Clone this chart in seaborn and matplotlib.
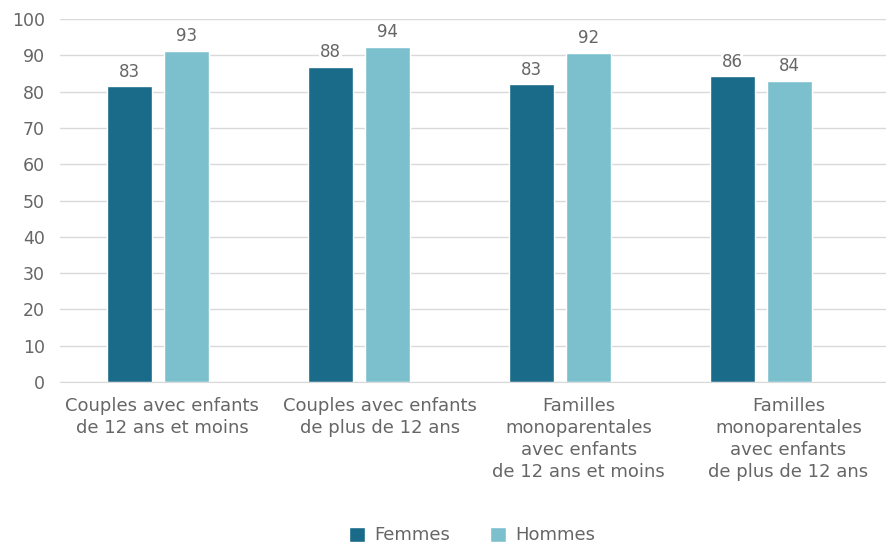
import pandas as pd
import matplotlib
matplotlib.use('Agg')
import matplotlib.pyplot as plt
import matplotlib.transforms as mtransforms
import seaborn as sns

categories = [
    "Couples avec enfants\nde 12 ans et moins",
    "Couples avec enfants\nde plus de 12 ans",
    "Familles\nmonoparentales\navec enfants\nde 12 ans et moins",
    "Familles\nmonoparentales\navec enfants\nde plus de 12 ans",
]
series = ["Femmes", "Hommes"]
femmes_values = [81.5, 86.9, 82.0, 84.2]
hommes_values = [91.3, 92.3, 90.7, 83.0]
femmes_labels = ["83", "88", "83", "86"]
hommes_labels = ["93", "94", "92", "84"]
colors = {"Femmes": "#196b89", "Hommes": "#7cc0ce"}
text_color = "#666666"
# small horizontal shifts (px) of the category labels, as in the original layout
label_shift_px = [4, 21, 19, 28]

df = pd.DataFrame({
    "categorie": categories * 2,
    "groupe": ["Femmes"] * 4 + ["Hommes"] * 4,
    "valeur": femmes_values + hommes_values,
})

sns.set_style("white")
plt.rcParams['font.family'] = ['DejaVu Sans']

fig = plt.figure(figsize=(8.87, 5.44), dpi=100)
ax = fig.add_axes([60 / 887, 162 / 544, 827 / 887, 363 / 544])

sns.barplot(data=df, x="categorie", y="valeur", hue="groupe", hue_order=series,
            palette=colors, width=0.568, gap=0.21, ax=ax, legend=True,
            saturation=1, errorbar=None)

for container, labels in zip(ax.containers, [femmes_labels, hommes_labels]):
    ax.bar_label(container, labels=labels, padding=4, fontsize=12, color=text_color,
                 bbox=dict(facecolor="white", edgecolor="none", pad=0.5))

ax.set_ylim(0, 100)
ax.set_xlim(-0.49, 3.63)
ax.set_yticks(range(0, 101, 10))
ax.yaxis.grid(True, color="#d9d9d9", linewidth=1)
ax.set_axisbelow(True)
for s in ["top", "right", "left"]:
    ax.spines[s].set_visible(False)
ax.spines["bottom"].set_color("#d9d9d9")
ax.set_xlabel("")
ax.set_ylabel("")
ax.tick_params(axis="both", length=0, colors=text_color)
ax.tick_params(axis="y", pad=11, labelsize=12.5)
ax.tick_params(axis="x", pad=11, labelsize=13)
for lab, dx in zip(ax.get_xticklabels(), label_shift_px):
    lab.set_multialignment("center")
    lab.set_linespacing(1.27)
    lab.set_transform(lab.get_transform() +
                      mtransforms.ScaledTranslation(dx / 100, 0, fig.dpi_scale_trans))

handles, labels = ax.get_legend_handles_labels()
ax.get_legend().remove()
fig.legend(handles, labels, loc="center", bbox_to_anchor=(0.532, 0.016), ncol=2,
           frameon=False, fontsize=13, labelcolor=text_color, handlelength=0.9,
           handleheight=0.9, columnspacing=2.2, handletextpad=0.5)

fig.savefig("out.png", dpi=100)
plt.close(fig)
